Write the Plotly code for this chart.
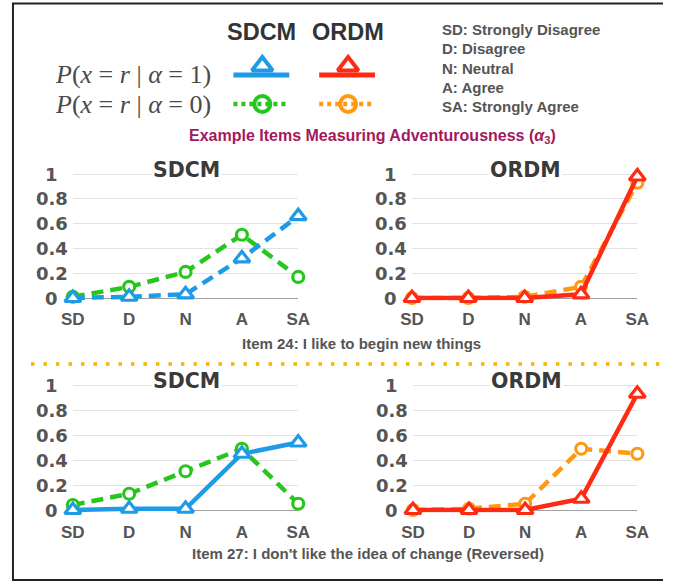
import plotly.graph_objects as go

# ---------------- data ----------------
categories = ["SD", "D", "N", "A", "SA"]
y_ticks = [0, 0.2, 0.4, 0.6, 0.8, 1]
y_tick_labels = ["0", "0.2", "0.4", "0.6", "0.8", "1"]

item24_sdcm_alpha1 = [0.00, 0.01, 0.03, 0.32, 0.66]
item24_sdcm_alpha0 = [0.01, 0.09, 0.21, 0.51, 0.17]
item24_ordm_alpha1 = [0.00, 0.00, 0.00, 0.03, 0.98]
item24_ordm_alpha0 = [0.00, 0.00, 0.01, 0.09, 0.93]
item27_sdcm_alpha1 = [0.00, 0.01, 0.01, 0.45, 0.54]
item27_sdcm_alpha0 = [0.04, 0.13, 0.31, 0.49, 0.05]
item27_ordm_alpha1 = [0.00, 0.00, 0.00, 0.09, 0.93]
item27_ordm_alpha0 = [0.00, 0.01, 0.05, 0.49, 0.45]

panel_titles = ["SDCM", "ORDM", "SDCM", "ORDM"]
item_captions = ["Item 24: I like to begin new things",
                 "Item 27: I don't like the idea of change (Reversed)"]
scale_labels = ["SD: Strongly Disagree", "D: Disagree", "N: Neutral",
                "A: Agree", "SA: Strongly Agree"]
model_headers = ["SDCM", "ORDM"]
row_labels = ["<i>P</i>(<i>x</i> = <i>r</i> | <i>α</i> = 1)",
              "<i>P</i>(<i>x</i> = <i>r</i> | <i>α</i> = 0)"]
subtitle = "Example Items Measuring Adventurousness (<i>α</i><sub>3</sub>)"

# ---------------- style ----------------
W, H = 675, 582
BLUE = "#1E9BE6"
GREEN = "#27C61F"
RED = "#FF2A14"
ORANGE = "#FF9A10"
GRAY_TXT = "#555555"
DARK_TXT = "#3a3a3a"
DASH = "12px,7px"
LW = 4.5

# horizontal placement correction (observed in the photographed page)
XS, XOFF = 0.967, 11.0


def px(x):
    return ((x - XOFF) / XS) / W


def py(y):
    return 1 - y / H


fig = go.Figure()

# panel geometry (pixel): x of first/last category, y of value 0 and value 1
panels = [
    dict(ax="", x0=72, x1=298, y0=298, y1=174, a1=item24_sdcm_alpha1, a0=item24_sdcm_alpha0,
         c1=BLUE, c0=GREEN, d1=DASH, title=panel_titles[0]),
    dict(ax="2", x0=412, x1=638, y0=298, y1=174, a1=item24_ordm_alpha1, a0=item24_ordm_alpha0,
         c1=RED, c0=ORANGE, d1="solid", title=panel_titles[1]),
    dict(ax="3", x0=72, x1=298, y0=510, y1=385, a1=item27_sdcm_alpha1, a0=item27_sdcm_alpha0,
         c1=BLUE, c0=GREEN, d1="solid", title=panel_titles[2]),
    dict(ax="4", x0=413, x1=638, y0=510, y1=385, a1=item27_ordm_alpha1, a0=item27_ordm_alpha0,
         c1=RED, c0=ORANGE, d1="solid", title=panel_titles[3]),
]

annotations = []
layout_axes = {}
for p in panels:
    xa, ya = "x" + p["ax"], "y" + p["ax"]
    # alpha = 0 (circles, dashed) first, alpha = 1 (triangles) on top
    fig.add_trace(go.Scatter(
        x=categories, y=p["a0"], xaxis=xa, yaxis=ya, mode="lines+markers",
        line=dict(color=p["c0"], width=LW, dash=DASH),
        marker=dict(symbol="circle", size=11, color="white",
                    line=dict(color=p["c0"], width=3.2)),
        cliponaxis=False, showlegend=False))
    fig.add_trace(go.Scatter(
        x=categories, y=p["a1"], xaxis=xa, yaxis=ya, mode="lines+markers",
        line=dict(color=p["c1"], width=LW, dash=p["d1"]),
        marker=dict(symbol="triangle-up", size=14, color="white",
                    line=dict(color=p["c1"], width=3.2)),
        cliponaxis=False, showlegend=False))

    ppu = p["y0"] - p["y1"]
    bot = p["y0"] + 0.02 * ppu
    top = p["y1"] - 0.02 * ppu
    layout_axes["xaxis" + p["ax"]] = dict(
        domain=[px(p["x0"]), px(p["x1"])], range=[0, 4], anchor=ya,
        showgrid=False, zeroline=False, showline=False,
        ticks="", tickfont=dict(family="Liberation Sans", size=17, color=GRAY_TXT, weight="bold"),
        ticklabelstandoff=7, fixedrange=True)
    layout_axes["yaxis" + p["ax"]] = dict(
        domain=[py(bot), py(top)], range=[-0.02, 1.02], anchor=xa,
        tickvals=y_ticks, showticklabels=False, ticks="",
        showgrid=True, gridcolor="#e2e2e2", gridwidth=1.2,
        zeroline=True, zerolinecolor="#a0a0a0", zerolinewidth=1.3,
        showline=False, fixedrange=True)
    for v, lab in zip(y_ticks, y_tick_labels):
        annotations.append(dict(
            xref=xa + " domain", yref=ya, x=0, y=v, xshift=-20.5 / XS, text=lab,
            showarrow=False, xanchor="center", yanchor="middle",
            font=dict(family="DejaVu Sans", size=18, color=GRAY_TXT, weight="bold")))
    annotations.append(dict(
        xref="paper", yref="paper", x=px((p["x0"] + p["x1"]) / 2 + 1), y=py(p["y1"] - 4),
        text="<b>%s</b>" % p["title"], showarrow=False, xanchor="center", yanchor="middle",
        bgcolor="white", borderpad=1,
        font=dict(family="DejaVu Sans", size=20.5, color=DARK_TXT)))

# captions
annotations.append(dict(xref="paper", yref="paper", x=px(361), y=py(343),
                        text="<b>%s</b>" % item_captions[0], showarrow=False,
                        xanchor="center", yanchor="middle",
                        font=dict(family="Liberation Sans", size=15, color=GRAY_TXT)))
annotations.append(dict(xref="paper", yref="paper", x=px(368), y=py(553),
                        text="<b>%s</b>" % item_captions[1], showarrow=False,
                        xanchor="center", yanchor="middle",
                        font=dict(family="Liberation Sans", size=15, color=GRAY_TXT)))

# header / legend texts
for name, cx in zip(model_headers, [261, 348]):
    annotations.append(dict(xref="paper", yref="paper", x=px(cx), y=py(32),
                            text="<b>%s</b>" % name, showarrow=False,
                            xanchor="center", yanchor="middle",
                            font=dict(family="Liberation Sans", size=23.5, color="#333333")))
for lab, cy in zip(row_labels, [75, 104]):
    annotations.append(dict(xref="paper", yref="paper", x=px(213), y=py(cy),
                            text=lab, showarrow=False, xanchor="right", yanchor="middle",
                            font=dict(family="Liberation Serif", size=26, color="#4a4a4a")))
for lab, cy in zip(scale_labels, [29, 48.5, 68, 87, 106]):
    annotations.append(dict(xref="paper", yref="paper", x=px(440), y=py(cy),
                            text="<b>%s</b>" % lab, showarrow=False, xanchor="left",
                            yanchor="middle",
                            font=dict(family="Liberation Sans", size=15, color=GRAY_TXT)))
annotations.append(dict(xref="paper", yref="paper", x=px(372), y=py(136),
                        text="<b>%s</b>" % subtitle, showarrow=False,
                        xanchor="center", yanchor="middle",
                        font=dict(family="Liberation Sans", size=16, color="#A21A5B")))

# legend keys on a small overlay axis covering only the key area (pixel units)
KX0, KX1, KY0, KY1 = 220, 395, 50, 120
key_rows = [
    (BLUE, "solid", "triangle-up", 262, 75, 66),
    (RED, "solid", "triangle-up", 348, 75, 66),
    (GREEN, "4px,4px", "circle-open", 262, 104, 104),
    (ORANGE, "4px,4px", "circle-open", 348, 104, 104),
]
for color, dash, sym, cx, ly, my in key_rows:
    fig.add_trace(go.Scatter(
        x=[cx - 29, cx + 27], y=[ly, ly], xaxis="x5", yaxis="y5", mode="lines",
        line=dict(color=color, width=5 if dash == "solid" else 4.5, dash=dash),
        showlegend=False, hoverinfo="skip"))
    fig.add_trace(go.Scatter(
        x=[cx], y=[my], xaxis="x5", yaxis="y5", mode="markers",
        marker=dict(symbol=sym, size=18 if sym.startswith("tri") else 16,
                    color="white" if sym.startswith("tri") else color,
                    line=dict(color=color, width=4)),
        showlegend=False, hoverinfo="skip", cliponaxis=False))
layout_axes["xaxis5"] = dict(domain=[px(KX0), px(KX1)], range=[KX0, KX1], visible=False,
                             anchor="y5", fixedrange=True)
layout_axes["yaxis5"] = dict(domain=[py(KY1), py(KY0)], range=[KY1, KY0], visible=False,
                             anchor="x5", fixedrange=True)

shapes = [
    # frame (left, top, bottom)
    dict(type="line", xref="paper", yref="paper", x0=0.0015, x1=0.0015, y0=py(3), y1=py(580),
         line=dict(color="#222222", width=2)),
    dict(type="line", xref="paper", yref="paper", x0=0, x1=1, y0=py(3.5), y1=py(3.5),
         line=dict(color="#222222", width=2)),
    dict(type="line", xref="paper", yref="paper", x0=0, x1=1, y0=py(580), y1=py(580),
         line=dict(color="#222222", width=2)),
    # dotted separator
    dict(type="line", xref="paper", yref="paper", x0=px(30), x1=px(662), y0=py(364), y1=py(364),
         line=dict(color="#F7B500", width=3.5, dash="3.5px,9px")),
]

fig.update_layout(width=W, height=H, margin=dict(l=0, r=0, t=0, b=0),
                  paper_bgcolor="white", plot_bgcolor="rgba(0,0,0,0)",
                  annotations=annotations, shapes=shapes, showlegend=False,
                  **layout_axes)

fig.write_html("out.html", config={"displayModeBar": False},
               post_script="document.body.style.margin='0';"
                           "document.body.style.padding='0';"
                           "document.body.style.overflow='hidden';")
